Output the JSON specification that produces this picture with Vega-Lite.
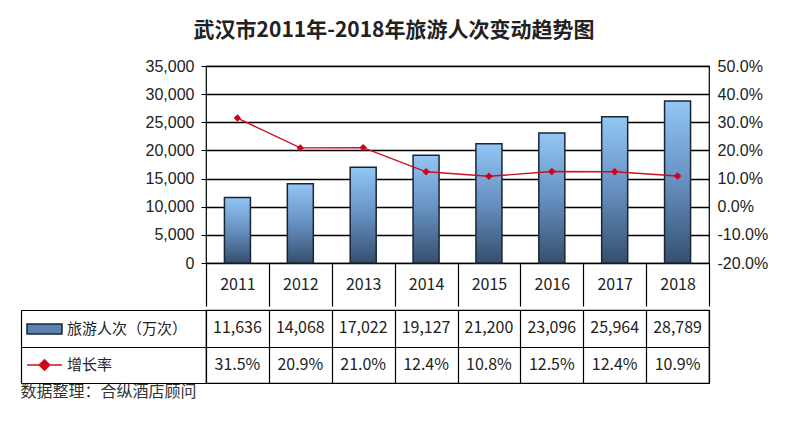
{
  "$schema": "https://vega.github.io/schema/vega-lite/v6.json",
  "background": "white",
  "padding": {"left": 19, "top": 20, "right": 5, "bottom": 5},
  "title": {
    "text": "武汉市2011年-2018年旅游人次变动趋势图",
    "font": "Noto Sans CJK SC",
    "fontSize": 21,
    "fontWeight": "bold",
    "color": "#222",
    "anchor": "middle",
    "offset": 16
  },
  "datasets": {
    "tourism": [
      {"year": "2011", "visits": 11636, "growth": 0.315},
      {"year": "2012", "visits": 14068, "growth": 0.209},
      {"year": "2013", "visits": 17022, "growth": 0.210},
      {"year": "2014", "visits": 19127, "growth": 0.124},
      {"year": "2015", "visits": 21200, "growth": 0.108},
      {"year": "2016", "visits": 23096, "growth": 0.125},
      {"year": "2017", "visits": 25964, "growth": 0.124},
      {"year": "2018", "visits": 28789, "growth": 0.109}
    ],
    "series": [
      {"row": "旅游人次（万次）"},
      {"row": "增长率"}
    ]
  },
  "spacing": 0,
  "vconcat": [
    {
      "width": 503,
      "height": 197,
      "data": {"name": "tourism"},
      "encoding": {
        "x": {
          "field": "year",
          "type": "ordinal",
          "scale": {"paddingInner": 0, "paddingOuter": 0},
          "axis": {
            "title": null,
            "labelAngle": 0,
            "domain": false,
            "tickBand": "extent",
            "tickSize": 43,
            "tickColor": "black",
            "tickWidth": 1.2,
            "labelBaseline": "middle",
            "labelPadding": -22,
            "labelFont": "Noto Sans CJK SC",
            "labelFontSize": 16,
            "labelColor": "#222"
          }
        }
      },
      "layer": [
        {
          "mark": {
            "type": "bar",
            "width": 26,
            "stroke": "#1a2533",
            "strokeWidth": 1.5,
            "color": {
              "gradient": "linear",
              "x1": 0, "y1": 0, "x2": 0, "y2": 1,
              "stops": [
                {"offset": 0, "color": "#92c6f5"},
                {"offset": 0.5, "color": "#6690c0"},
                {"offset": 1, "color": "#354f6e"}
              ]
            }
          },
          "encoding": {
            "y": {
              "field": "visits",
              "type": "quantitative",
              "scale": {"domain": [0, 35000]},
              "axis": {
                "title": null,
                "values": [0, 5000, 10000, 15000, 20000, 25000, 30000, 35000],
                "format": ",.0f",
                "domain": false,
                "tickSize": 5,
                "tickColor": "black",
                "grid": true,
                "gridColor": "black",
                "gridWidth": 1.5,
                "labelFont": "Liberation Sans",
                "labelFontSize": 16,
                "labelColor": "#222",
                "labelPadding": 7
              }
            }
          }
        },
        {
          "mark": {
            "type": "line",
            "color": "#cc1020",
            "strokeWidth": 1.4,
            "point": {"shape": "diamond", "filled": true, "size": 55, "color": "#d0001a"}
          },
          "encoding": {
            "y": {
              "field": "growth",
              "type": "quantitative",
              "scale": {"domain": [-0.2, 0.5]},
              "axis": {
                "title": null,
                "orient": "right",
                "values": [-0.2, -0.1, 0, 0.1, 0.2, 0.3, 0.4, 0.5],
                "format": ".1%",
                "labelExpr": "replace(datum.label, '−', '-')",
                "domain": false,
                "ticks": false,
                "grid": false,
                "labelFont": "Liberation Sans",
                "labelFontSize": 16,
                "labelColor": "#222",
                "labelPadding": 8
              }
            }
          }
        }
      ],
      "resolve": {"scale": {"y": "independent"}}
    },
    {
      "width": 503,
      "height": 73,
      "title": {
        "text": "数据整理：合纵酒店顾问",
        "orient": "bottom",
        "anchor": "start",
        "frame": "bounds",
        "offset": 0,
        "font": "Noto Sans CJK SC",
        "fontSize": 16,
        "fontWeight": "normal",
        "color": "#333"
      },
      "layer": [
        {
          "data": {"name": "tourism"},
          "mark": {"type": "text", "font": "Noto Sans CJK SC", "fontSize": 16, "color": "#222"},
          "encoding": {
            "x": {
              "field": "year",
              "type": "ordinal",
              "scale": {"paddingInner": 0, "paddingOuter": 0},
              "axis": {
                "title": null,
                "labels": false,
                "ticks": false,
                "domain": false,
                "grid": true,
                "tickBand": "extent",
                "gridColor": "black",
                "gridWidth": 1.2
              }
            },
            "y": {
              "datum": "旅游人次（万次）",
              "type": "nominal",
              "scale": {"type": "band", "domain": ["旅游人次（万次）", "增长率"], "paddingInner": 0, "paddingOuter": 0},
              "axis": {
                "title": null,
                "orient": "left",
                "labels": false,
                "domain": false,
                "tickBand": "extent",
                "tickSize": 185,
                "tickColor": "black",
                "tickWidth": 1.2,
                "grid": true,
                "gridColor": "black",
                "gridWidth": 1.2
              }
            },
            "text": {"field": "visits", "type": "quantitative", "format": ","}
          }
        },
        {
          "data": {"name": "tourism"},
          "mark": {"type": "text", "font": "Noto Sans CJK SC", "fontSize": 16, "color": "#222"},
          "encoding": {
            "x": {"field": "year", "type": "ordinal"},
            "y": {
              "datum": "增长率",
              "type": "nominal",
              "axis": {
                "title": null,
                "orient": "left",
                "offset": 185,
                "labels": false,
                "ticks": false,
                "grid": false,
                "domain": true,
                "domainColor": "black",
                "domainWidth": 1.2
              }
            },
            "text": {"field": "growth", "type": "quantitative", "format": ".1%"}
          }
        },
        {
          "data": {"name": "series"},
          "mark": {"type": "point", "filled": true, "opacity": 1, "fillOpacity": 1, "strokeWidth": 1.5},
          "encoding": {
            "size": {"value": 0},
            "fill": {
              "field": "row",
              "type": "nominal",
              "scale": {"domain": ["旅游人次（万次）", "增长率"], "range": ["#5a82b2", "#d0001a"]},
              "legend": {
                "orient": "none",
                "legendX": -180,
                "legendY": 0.5,
                "title": null,
                "padding": 0,
                "rowPadding": 9,
                "symbolSize": 1225,
                "symbolOpacity": 1,
                "symbolStrokeWidth": 1.5,
                "labelOffset": 4,
                "labelFont": "Noto Sans CJK SC",
                "labelFontSize": 15,
                "labelColor": "#222"
              }
            },
            "stroke": {
              "field": "row",
              "type": "nominal",
              "scale": {"domain": ["旅游人次（万次）", "增长率"], "range": ["#1a2533", "#cc1020"]}
            },
            "shape": {
              "field": "row",
              "type": "nominal",
              "scale": {
                "domain": ["旅游人次（万次）", "增长率"],
                "range": ["M-1,-0.29H1V0.29H-1Z", "M-1,0H1M0,-0.3L0.3,0L0,0.3L-0.3,0Z"]
              }
            }
          }
        }
      ],
      "resolve": {"axis": {"y": "independent"}}
    }
  ],
  "resolve": {
    "scale": {"fill": "independent", "stroke": "independent", "shape": "independent"},
    "legend": {"fill": "independent", "stroke": "independent", "shape": "independent"}
  },
  "config": {
    "view": {"stroke": "black", "strokeWidth": 1.2},
    "axis": {"labelFlush": false, "labelOverlap": false}
  }
}
